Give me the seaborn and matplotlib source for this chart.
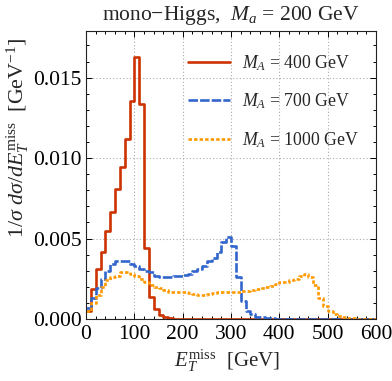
import numpy as np
import pandas as pd
import seaborn as sns
import matplotlib
matplotlib.use("Agg")
import matplotlib.pyplot as plt
from matplotlib.ticker import MultipleLocator, FixedLocator

# ---- data (10 GeV bins from 0 to 600) ----
bin_width = 10
bin_range = (0, 600)
red_400 = [0.0005, 0.00185, 0.0031, 0.00415, 0.0055, 0.00665, 0.0081, 0.00946, 0.01117, 0.01358,
           0.01627, 0.01335, 0.00442, 0.00137, 0.00064, 0.00025, 0.0001, 0.00005, 0.00003, 0.00002,
           0.00001, 0.00001, 0.00001, 0.00001, 0.00001, 0.00001, 0.00001, 0.00001, 0.00001, 0.00001,
           0.00001, 0.00001, 0.00001, 0.00001, 0.00001, 0.00001, 0.00001, 0.00001, 0.00001, 0.00001,
           0.00001, 0.00001, 0.00001, 0.00001, 0.00001, 0.00001, 0.00001, 0.00001, 0.00001, 0.00001,
           0.00001, 0.00001, 0.00001, 0.00001, 0.00001, 0.00001, 0.00001, 0.00001, 0.00001, 0.00001]
blue_700 = [0.0007, 0.0013, 0.0019, 0.0025, 0.0030, 0.0034, 0.0036, 0.0036, 0.0036, 0.0034,
            0.0033, 0.0031, 0.0030, 0.0029, 0.0027, 0.0026, 0.0026, 0.0026, 0.00265, 0.0027,
            0.00275, 0.0028, 0.00296, 0.0031, 0.00327, 0.00358, 0.00379, 0.00415, 0.00477, 0.00512,
            0.00452, 0.00258, 0.00113, 0.0005, 0.0003, 0.00015, 0.0001, 0.00006, 0.00004, 0.00003,
            0.00003, 0.00002, 0.00002, 0.00002, 0.00002, 0.00002, 0.00001, 0.00001, 0.00001, 0.00001,
            0.00001, 0.00001, 0.00001, 0.00001, 0.00001, 0.00001, 0.00001, 0.00001, 0.00001, 0.00001]
orange_1000 = [0.0005, 0.0010, 0.0015, 0.0020, 0.0024, 0.0026, 0.0027, 0.0029, 0.0029, 0.0028,
               0.0027, 0.0025, 0.0023, 0.0021, 0.0020, 0.0019, 0.0018, 0.0017, 0.0017, 0.0017,
               0.00165, 0.0016, 0.00155, 0.0015, 0.0015, 0.00155, 0.0016, 0.00165, 0.00165, 0.00165,
               0.00165, 0.0017, 0.00175, 0.00175, 0.0018, 0.00185, 0.0019, 0.0020, 0.00206, 0.00217,
               0.00227, 0.0023, 0.00244, 0.0025, 0.0027, 0.0028, 0.0026, 0.0021, 0.0013, 0.0008,
               0.0005, 0.0003, 0.0002, 0.00012, 0.00008, 0.00005, 0.00003, 0.00003, 0.00003, 0.00003]
labels = ["$M_A$ = 400 GeV", "$M_A$ = 700 GeV", "$M_A$ = 1000 GeV"]
title = "mono\u2212Higgs,  $M_a$ = 200 GeV"
xlabel = r"$E_T^{\rm miss}$  [GeV]"
ylabel = r"$1/\sigma\ d\sigma/dE_T^{\rm miss}$  [GeV$^{-1}$]"
xticks = [0, 100, 200, 300, 400, 500, 600]
yticks = [0.0, 0.005, 0.010, 0.015]
ytick_labels = ["0.000", "0.005", "0.010", "0.015"]

# ---- style ----
sns.set_style("ticks")
plt.rcParams["font.family"] = ["Liberation Serif", "DejaVu Serif"]
plt.rcParams["mathtext.fontset"] = "custom"
plt.rcParams["mathtext.rm"] = "Liberation Serif"
plt.rcParams["mathtext.it"] = "Liberation Serif:italic"
plt.rcParams["mathtext.bf"] = "Liberation Serif:bold"

fig = plt.figure(figsize=(3.92, 3.81), dpi=100)
ax = fig.add_axes([86/392, 1-319/381, 290/392, 288/381])

styles = [
    dict(color="#CC3300", linestyle="-"),
    dict(color="#3366CC", linestyle=(0, (3.6, 0.8))),
    dict(color="#FF9900", linestyle=(0, (1.3, 0.8))),
]
for vals, st in zip([red_400, blue_700, orange_1000], styles):
    n = len(vals)
    centers = bin_range[0] + bin_width * (np.arange(n) + 0.5)
    df = pd.DataFrame({"E": centers, "w": np.asarray(vals, dtype=float)})
    sns.histplot(data=df, x="E", weights="w", binwidth=bin_width, binrange=bin_range,
                 element="step", fill=False, ax=ax, linewidth=1.9, **st)

ax.set_xlim(0, 600)
ax.set_ylim(0, 0.0179)
ax.xaxis.set_major_locator(FixedLocator(xticks))
ax.xaxis.set_minor_locator(MultipleLocator(20))
ax.yaxis.set_major_locator(FixedLocator(yticks))
ax.set_yticklabels(ytick_labels)
ax.yaxis.set_minor_locator(MultipleLocator(0.001))
ax.tick_params(which="both", direction="in", top=True, right=True, colors="black", width=0.7)
ax.tick_params(which="major", length=4.5, labelsize=15.5)
ax.tick_params(which="minor", length=2.5)
ax.tick_params(axis="x", which="major", pad=4)
ax.tick_params(axis="y", which="major", pad=3)
for s in ax.spines.values():
    s.set_color("#222222")
    s.set_linewidth(0.8)
ax.grid(True, which="major", linestyle=(0, (1, 2)), color="#aaaaaa", linewidth=0.8)

ax.set_title(title, fontsize=15.5, pad=8)
ax.set_xlabel(xlabel, fontsize=15)
ax.set_ylabel(ylabel, fontsize=15.8)
ax.xaxis.set_label_coords(0.4845, -0.10)
ax.yaxis.set_label_coords(-0.19, 0.628)

handles = ax.lines[:3]
ax.legend(handles, labels, loc="upper left", bbox_to_anchor=(0.352, 0.924),
          frameon=False, fontsize=12.8, handlelength=2.36, handletextpad=0.67,
          labelspacing=1.06, borderpad=0, borderaxespad=0)

fig.savefig("out.png", dpi=100)
